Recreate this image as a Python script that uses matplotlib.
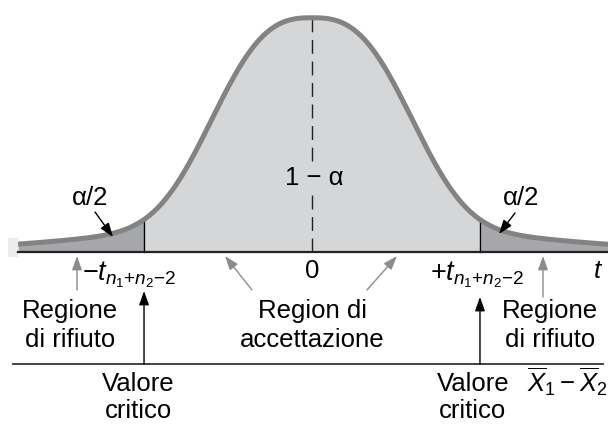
#!/usr/bin/env python3
# Two-tailed t test: acceptance / rejection regions sketch
import numpy as np
import matplotlib
matplotlib.use('Agg')
import matplotlib.pyplot as plt
import matplotlib.transforms as mtransforms
from matplotlib.patches import Rectangle

# Data (x in t units, y relative to peak)
t_crit = 1.96          # +/- t_{n1+n2-2}
t_left_end = -3.43     # where the drawn curve starts on the left
t_right_end = 3.6
core_height = 0.873    # bell drawn a bit flatter than a gaussian ...
core_width = 1.366
core_power = 2.8
tail_height = 0.128    # ... with heavier tails
tail_width = 2.10
tick_labels = [r'$-t_{n_1{+}n_2{-}2}$', '0', r'$+t_{n_1{+}n_2{-}2}$', 't']
region_labels = ['Regione\ndi rifiuto', 'Region di\naccettazione', 'Regione\ndi rifiuto']
critical_label = 'Valore\ncritico'
tail_label = 'α/2'
centre_label = '1 − α'
diff_label = r'$\overline{X}_1 - \overline{X}_2$'

W, H = 608, 424
FS = 18.5
plt.rcParams['font.family'] = ['Liberation Sans', 'DejaVu Sans']
plt.rcParams['mathtext.fontset'] = 'custom'
plt.rcParams['mathtext.rm'] = 'Liberation Sans'
plt.rcParams['mathtext.it'] = 'Liberation Sans:italic'

LIGHT = '#d5d6d8'
DARK = '#a6a7aa'
CURVE = '#838383'
ARROW_GREY = '#8c8c8c'


def bell(t):
    core = core_height * np.exp(-(np.abs(t) / core_width) ** core_power)
    tail = tail_height * np.exp(-0.5 * (t / tail_width) ** 2)
    return core + tail


fig = plt.figure(figsize=(W / 100, H / 100), dpi=100)
ax = fig.add_axes([0, 0, 1, 1])
ax.set_xlim(-312 / 85.7, (W - 312) / 85.7)
ax.set_ylim(-(H - 252) / 234, 252 / 234)
ax.axis('off')

# pixel coordinates (origin top-left) for labels and arrows
px = mtransforms.Affine2D().scale(1 / W, -1 / H).translate(0, 1) + fig.transFigure
xdata_ypx = mtransforms.blended_transform_factory(ax.transData, px)

t = np.linspace(t_left_end, t_right_end, 600)
y = bell(t)
mid = (t >= -t_crit) & (t <= t_crit)
ax.fill_between(t, 0, y, where=mid, color=LIGHT, lw=0)
ax.fill_between(t, 0, y, where=t <= -t_crit, color=DARK, lw=0)
ax.fill_between(t, 0, y, where=t >= t_crit, color=DARK, lw=0)
ax.plot(t, y, color=CURVE, lw=3.6, solid_capstyle='butt', zorder=3)

# critical value lines and the t axis
for c in (-t_crit, t_crit):
    ax.plot([c, c], [0, bell(c)], color='black', lw=1.0, zorder=2)
ax.plot([t_left_end, t_right_end], [0, 0], color='#222222', lw=1.6, zorder=4)
ax.add_patch(Rectangle((8, 238), 10, 19, transform=px, color='#ececec', lw=0))

# dashed centre line, broken around the 1 - alpha label
for y0, y1 in [(0, 0.245), (0.39, bell(0))]:
    ax.plot([0, 0], [y0, y1], color='#222222', lw=1.0, dashes=(10, 5.5), zorder=2)

# lower axis line
ax.plot([13, 603], [364, 364], color='#333333', lw=1.3, transform=px)


def text_lines(x, y, s, dy, **kw):
    for i, line in enumerate(s.split('\n')):
        ax.text(x, y + i * dy, line, transform=px, fontsize=FS, ha='center',
                va='baseline', **kw)


def arrow(x0, y0, x1, y1, color, trans=px):
    ax.annotate('', xy=(x1, y1), xytext=(x0, y0), xycoords=trans, textcoords=trans,
                arrowprops=dict(arrowstyle='-|>,head_length=0.7,head_width=0.25',
                                color=color, lw=1.0, shrinkA=0, shrinkB=0,
                                mutation_scale=12))


# tick labels on the t axis
ax.text(82, 280, tick_labels[0], transform=px, fontsize=FS + 1, ha='left', va='baseline')
ax.text(312, 278, tick_labels[1], transform=px, fontsize=FS, ha='center', va='baseline')
ax.text(430, 280, tick_labels[2], transform=px, fontsize=FS + 1, ha='left', va='baseline')
ax.text(597, 278, tick_labels[3], transform=px, fontsize=FS, ha='center', va='baseline',
        style='italic')

# region labels and their grey arrows
text_lines(70, 318, region_labels[0], 29)
text_lines(312, 318, region_labels[1], 29)
text_lines(550, 318, region_labels[2], 29)
arrow(77, 290, 77, 256, ARROW_GREY)
arrow(543, 297, 543, 256, ARROW_GREY)
arrow(252, 290, 225, 256, ARROW_GREY)
arrow(367, 290, 397, 256, ARROW_GREY)

# tail areas
text_lines(90, 205, tail_label, 0)
text_lines(521, 205, tail_label, 0)
arrow(95, 212, 113, 237, 'black')
arrow(515, 213, 499, 234, 'black')
text_lines(314, 185, centre_label, 0)

# critical values on the lower axis
arrow(-t_crit, 364, -t_crit, 291, 'black', xdata_ypx)
arrow(t_crit, 364, t_crit, 297, 'black', xdata_ypx)
text_lines(138, 391, critical_label, 27)
text_lines(473, 391, critical_label, 27)
ax.text(527, 392, diff_label, transform=px, fontsize=FS, ha='left', va='baseline')

fig.savefig('out.png', dpi=100)
plt.close(fig)
